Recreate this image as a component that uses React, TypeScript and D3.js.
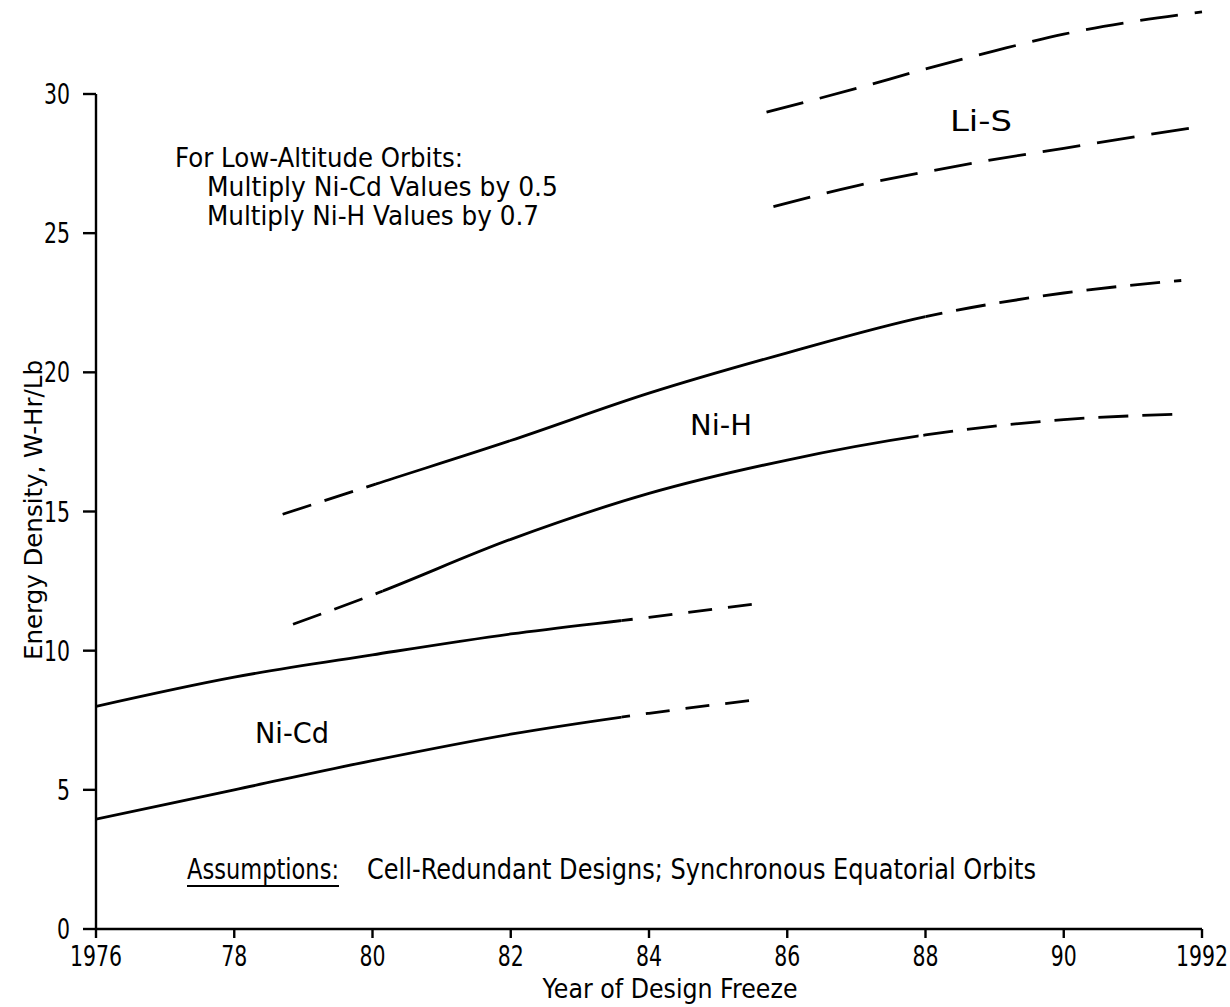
import React from "react";
import * as d3 from "d3";

const width = 1230;
const height = 1007;

// axis definitions
const yearDomain = [1976, 1992];
const yearTicks = [1976, 1978, 1980, 1982, 1984, 1986, 1988, 1990, 1992];
const yearTickLabels = ["1976", "78", "80", "82", "84", "86", "88", "90", "1992"];
const energyTicks = [0, 5, 10, 15, 20, 25, 30];

// [year, W-Hr/Lb]
const niCdUpper: [number, number][] = [
  [1976, 8.0], [1978, 9.05], [1980, 9.85], [1982, 10.6], [1984, 11.2], [1985.6, 11.7],
];
const niCdLower: [number, number][] = [
  [1976, 3.95], [1978, 5.0], [1980, 6.05], [1982, 7.0], [1984, 7.75], [1985.6, 8.25],
];
const niHUpper: [number, number][] = [
  [1978.7, 14.9], [1980, 15.95], [1982, 17.55], [1984, 19.25], [1986, 20.7],
  [1988, 22.0], [1990, 22.85], [1991.7, 23.3],
];
const niHLower: [number, number][] = [
  [1978.85, 10.95], [1980, 12.0], [1982, 14.0], [1984, 15.65], [1986, 16.85],
  [1988, 17.75], [1990, 18.3], [1991.7, 18.5],
];
const liSUpper: [number, number][] = [
  [1985.7, 29.35], [1987, 30.2], [1988, 30.9], [1989, 31.55], [1990, 32.15],
  [1991, 32.6], [1992, 32.95],
];
const liSLower: [number, number][] = [
  [1985.8, 25.95], [1987, 26.7], [1988, 27.2], [1989, 27.65], [1990, 28.05],
  [1991, 28.45], [1991.9, 28.8],
];

// years where each curve is drawn solid (rest is dashed projection)
const niCdSolid = [1976, 1983.6];
const niHUpperSolid = [1980.05, 1988.0];
const niHLowerSolid = [1980.15, 1987.9];

const curves = [
  { id: "nicd-u", family: "nicd", points: niCdUpper, solid: niCdSolid },
  { id: "nicd-l", family: "nicd", points: niCdLower, solid: niCdSolid },
  { id: "nih-u", family: "nih", points: niHUpper, solid: niHUpperSolid },
  { id: "nih-l", family: "nih", points: niHLower, solid: niHLowerSolid },
  { id: "lis-u", family: "lis", points: liSUpper, solid: null },
  { id: "lis-l", family: "lis", points: liSLower, solid: null },
];

const dashes: Record<string, string> = {
  nicd: "24,16",
  nih: "30,14",
  lis: "38,17",
};

const font = "'DejaVu Sans', sans-serif";

// text squeezed to a given width (the original lettering is narrow)
function Txt(props: any) {
  const { x, y, len, size, anchor, children, rotate } = props;
  return (
    <text
      x={x}
      y={y}
      fontSize={size}
      fontFamily={font}
      textAnchor={anchor || "start"}
      textLength={len}
      lengthAdjust="spacingAndGlyphs"
      transform={rotate ? `rotate(${rotate},${x},${y})` : undefined}
      fill="#000"
    >
      {children}
    </text>
  );
}

// tick label, narrowed with a horizontal scale
function Tick(props: any) {
  const { x, y, anchor, children } = props;
  return (
    <text
      transform={`translate(${x},${y}) scale(0.73,1)`}
      fontSize={28}
      fontFamily={font}
      textAnchor={anchor}
      fill="#000"
    >
      {children}
    </text>
  );
}

export default function App() {
  const x = d3.scaleLinear().domain(yearDomain).range([96, 1202]);
  const y = d3.scaleLinear().domain([0, 30]).range([929, 94]);

  const line = d3
    .line<[number, number]>()
    .x((d) => x(d[0]))
    .y((d) => y(d[1]))
    .curve(d3.curveMonotoneX);

  return (
    <svg
      width={width}
      height={height}
      style={{ position: "absolute", left: 0, top: 0, background: "#fff" }}
    >
      <defs>
        {curves
          .filter((c) => c.solid)
          .map((c) => (
            <React.Fragment key={c.id}>
              <clipPath id={`solid-${c.id}`}>
                <rect x={x(c.solid![0])} y={0} width={x(c.solid![1]) - x(c.solid![0])} height={height} />
              </clipPath>
              <clipPath id={`dash-${c.id}`}>
                <rect x={0} y={0} width={x(c.solid![0])} height={height} />
                <rect x={x(c.solid![1])} y={0} width={width - x(c.solid![1])} height={height} />
              </clipPath>
            </React.Fragment>
          ))}
      </defs>

      {/* axes */}
      <g stroke="#000" strokeWidth={2.4} fill="none">
        <line x1={x(1976)} x2={x(1976)} y1={y(30)} y2={y(0)} />
        <line x1={x(1976)} x2={x(1992)} y1={y(0)} y2={y(0)} />
        {energyTicks.map((t) => (
          <line key={t} x1={x(1976) - 13} x2={x(1976)} y1={y(t)} y2={y(t)} />
        ))}
        {yearTicks.map((t) => (
          <line key={t} x1={x(t)} x2={x(t)} y1={y(0)} y2={y(0) + 9} />
        ))}
      </g>

      {energyTicks.map((t) => (
        <Tick key={t} x={70} y={y(t) + 10} anchor="end">
          {t}
        </Tick>
      ))}
      {yearTicks.map((t, i) => (
        <Tick key={t} x={x(t)} y={966} anchor="middle">
          {yearTickLabels[i]}
        </Tick>
      ))}

      <Txt x={670} y={998} size={27} anchor="middle" len={255}>
        Year of Design Freeze
      </Txt>
      <Txt x={42} y={510} size={25} anchor="middle" len={300} rotate={-90}>
        Energy Density, W-Hr/Lb
      </Txt>

      {/* curves */}
      <g fill="none" stroke="#000" strokeWidth={2.8}>
        {curves.map((c) =>
          c.solid ? (
            <React.Fragment key={c.id}>
              <path d={line(c.points) || ""} clipPath={`url(#solid-${c.id})`} />
              <path
                d={line(c.points) || ""}
                strokeDasharray={dashes[c.family]}
                clipPath={`url(#dash-${c.id})`}
              />
            </React.Fragment>
          ) : (
            <path key={c.id} d={line(c.points) || ""} strokeDasharray={dashes[c.family]} />
          )
        )}
      </g>

      {/* curve labels */}
      <Txt x={255} y={743} size={29} len={74}>Ni-Cd</Txt>
      <Txt x={690} y={435} size={29} len={62}>Ni-H</Txt>
      <Txt x={950} y={131} size={29} len={62}>Li-S</Txt>

      {/* notes */}
      <Txt x={175} y={167} size={27} len={288}>For Low-Altitude Orbits:</Txt>
      <Txt x={207} y={196} size={27} len={351}>Multiply Ni-Cd  Values by 0.5</Txt>
      <Txt x={207} y={225} size={27} len={332}>Multiply Ni-H Values by 0.7</Txt>

      <Txt x={187} y={879} size={28} len={152}>Assumptions:</Txt>
      <line x1={187} x2={339} y1={886} y2={886} stroke="#000" strokeWidth={2} />
      <Txt x={367} y={879} size={28} len={669}>
        Cell-Redundant Designs; Synchronous Equatorial Orbits
      </Txt>
    </svg>
  );
}
